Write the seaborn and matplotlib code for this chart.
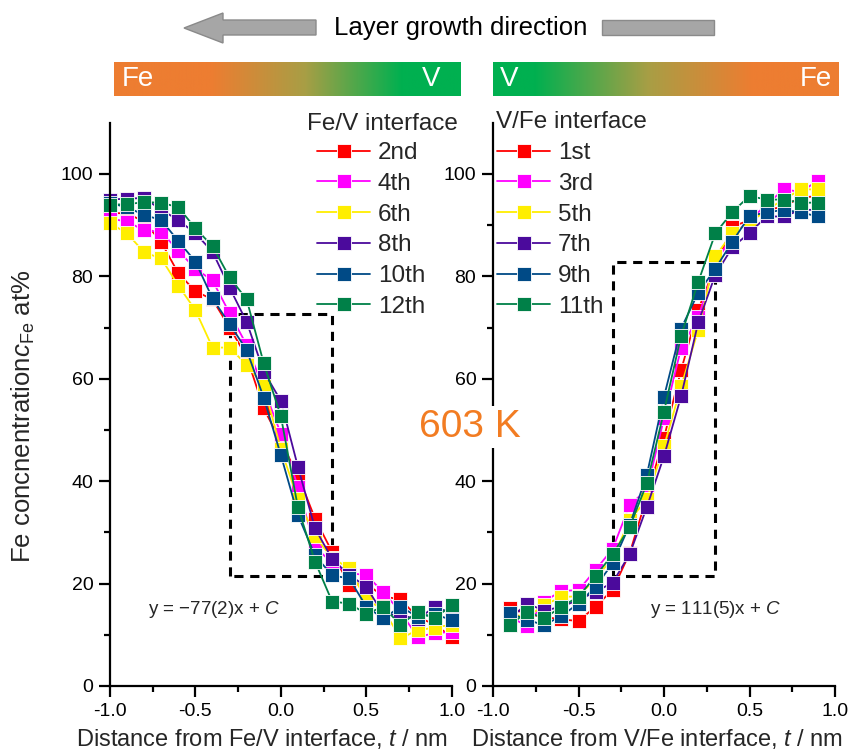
import numpy as np
import pandas as pd
import matplotlib
matplotlib.use("Agg")
import matplotlib.pyplot as plt
import seaborn as sns
from matplotlib.patches import Polygon, Rectangle
from matplotlib.colors import to_rgb

# ---------------- data ----------------
t_left = [-1.0, -0.9, -0.8, -0.7, -0.6, -0.5, -0.4, -0.3, -0.2, -0.1, 0.0,
          0.1, 0.2, 0.3, 0.4, 0.5, 0.6, 0.7, 0.8, 0.9, 1.0]
fe_v_2nd = [92.4, 92.3, 90.7, 86.7, 80.6, 77.1, 75.5, 70.0, 64.3, 54.2, 47.7,
            41.2, 32.7, 26.2, 19.7, 20.0, 17.5, 16.9, 13.5, 12.0, 9.6]
fe_v_4th = [91.3, 90.7, 89.0, 88.7, 85.0, 81.5, 79.2, 72.8, 66.6, 58.0, 49.3,
            38.9, 27.2, 24.0, 22.0, 21.7, 18.3, 14.5, 9.6, 10.3, 10.6]
fe_v_6th = [90.4, 88.4, 84.7, 83.5, 78.2, 73.4, 66.1, 66.1, 62.7, 58.6, 46.3,
            36.5, 29.2, 25.0, 23.0, 16.8, 15.0, 9.3, 10.9, 11.4, 12.0]
fe_v_8th = [95.0, 95.2, 95.3, 93.0, 91.0, 88.4, 84.8, 77.8, 71.1, 61.4, 55.7,
            42.8, 30.8, 24.8, 21.7, 19.4, 14.0, 13.9, 13.0, 15.5, 14.2]
fe_v_10th = [94.3, 93.5, 92.0, 91.0, 86.9, 82.9, 75.7, 70.7, 65.6, 56.3, 45.1,
             33.4, 25.5, 21.6, 21.0, 15.5, 13.2, 15.5, 13.5, 14.0, 12.9]
fe_v_12th = [94.0, 94.1, 94.5, 94.4, 93.5, 89.4, 85.9, 79.8, 75.5, 63.0, 52.7,
             34.9, 24.3, 16.5, 16.1, 14.1, 15.5, 11.9, 14.5, 13.2, 15.8]
left_labels = ["2nd", "4th", "6th", "8th", "10th", "12th"]

t_right = [-0.9, -0.8, -0.7, -0.6, -0.5, -0.4, -0.3, -0.2, -0.1, 0.0,
           0.1, 0.2, 0.3, 0.4, 0.5, 0.6, 0.7, 0.8, 0.9]
v_fe_1st = [15.3, 14.0, 13.5, 13.0, 12.7, 15.5, 18.8, 26.0, 37.0, 48.5,
            61.7, 73.5, 82.0, 89.7, 91.0, 93.0, 93.6, 95.5, 95.6]
v_fe_3rd = [13.5, 11.7, 16.5, 18.6, 18.7, 22.7, 26.8, 35.4, 38.3, 52.3,
            66.0, 72.0, 82.5, 88.0, 91.0, 94.0, 97.0, 96.5, 98.7]
v_fe_5th = [14.0, 13.5, 15.8, 17.4, 17.5, 21.0, 25.0, 32.4, 36.5, 46.8,
            58.5, 69.5, 83.9, 88.5, 90.4, 93.0, 95.0, 97.0, 97.0]
v_fe_7th = [13.2, 16.1, 14.7, 15.5, 16.8, 18.4, 20.2, 25.8, 35.0, 44.9,
            56.6, 71.0, 80.3, 85.7, 88.5, 91.7, 91.7, 93.0, 93.0]
v_fe_9th = [14.2, 12.9, 11.9, 13.7, 16.1, 19.4, 24.0, 31.5, 41.3, 56.5,
            69.8, 76.8, 81.5, 86.8, 91.8, 92.5, 93.0, 92.5, 91.7]
v_fe_11th = [11.9, 14.5, 13.2, 15.5, 17.4, 21.5, 25.7, 31.1, 39.6, 53.6,
             68.4, 78.9, 88.4, 92.6, 95.7, 95.0, 95.0, 94.4, 94.4]
right_labels = ["1st", "3rd", "5th", "7th", "9th", "11th"]

series_colors = ["#FF0000", "#FF00FF", "#FFEE00", "#4B0A9C", "#004A86", "#008048"]

# dashed guide boxes (t range, c range) and fits
box_left = [-0.3, 0.3, 21.5, 72.6]
box_right = [-0.3, 0.3, 21.5, 82.9]
fit_left = r"y = $-$77(2)x + $C$"
fit_right = r"y = 111(5)x + $C$"

# ---------------- style ----------------
sns.set_theme(style="ticks")
plt.rcParams["font.family"] = ["Liberation Sans", "DejaVu Sans"]
plt.rcParams["mathtext.fontset"] = "custom"
plt.rcParams["mathtext.rm"] = "Liberation Sans"
plt.rcParams["mathtext.it"] = "Liberation Sans:italic"
plt.rcParams["mathtext.bf"] = "Liberation Sans:bold"
plt.rcParams["axes.unicode_minus"] = False

W, H = 855, 754
fig = plt.figure(figsize=(W / 100, H / 100), dpi=100)
fig.patch.set_facecolor("white")


def fx(px):
    return px / W


def fy(py):
    return 1 - py / H


y0_px, ytop = 686, 110
ppu = 5.12
ax_h = ytop * ppu / H
ax1 = fig.add_axes([fx(110), fy(y0_px), 341.7 / W, ax_h])
ax2 = fig.add_axes([fx(493), fy(y0_px), 342 / W, ax_h])


def draw_panel(ax, t, series, labels, xlabel, box, fit, fit_pos, leg_anchor,
               title, title_pos):
    frames = []
    for lab, vals in zip(labels, series):
        frames.append(pd.DataFrame({"t": t, "c": vals, "layer": lab}))
    df = pd.concat(frames, ignore_index=True)
    sns.lineplot(data=df, x="t", y="c", hue="layer", hue_order=labels,
                 palette=series_colors, marker="s", markersize=10.3,
                 markeredgecolor="white", markeredgewidth=0.6, linewidth=1.3,
                 estimator=None, sort=False, legend=False, ax=ax, clip_on=False)
    ax.set_xlim(-1.0, 1.0)
    ax.set_ylim(0, ytop)
    ax.set_xticks([-1.0, -0.5, 0.0, 0.5, 1.0])
    ax.set_xticklabels(["-1.0", "-0.5", "0.0", "0.5", "1.0"])
    ax.set_xticks([-0.75, -0.25, 0.25, 0.75], minor=True)
    ax.set_yticks([0, 20, 40, 60, 80, 100])
    ax.set_yticks([10, 30, 50, 70, 90], minor=True)
    ax.tick_params(axis="both", which="major", labelsize=14, length=8, width=1.6,
                   direction="out", color="black", labelcolor="black", pad=4)
    ax.tick_params(axis="both", which="minor", length=4.5, width=1.6,
                   direction="out", color="black")
    for s in ["top", "right"]:
        ax.spines[s].set_visible(False)
    for s in ["left", "bottom"]:
        ax.spines[s].set_linewidth(1.6)
        ax.spines[s].set_color("black")
    ax.set_facecolor("none")
    ax.set_xlabel(xlabel, fontsize=17, labelpad=3)
    ax.set_ylabel("")
    # dashed box
    x0, x1, yb, yt = box
    ax.plot([x0, x0, x1, x1, x0], [yb, yt, yt, yb, yb], ls=(0, (3, 2.2)),
            color="black", lw=2.2, zorder=1)
    ax.text(fit_pos[0], fit_pos[1], fit, transform=ax.transAxes, fontsize=13.5,
            ha="left", va="center")
    handles = ax.get_lines()[:len(labels)]
    leg = ax.legend(handles=handles, labels=labels, loc="upper left",
                    bbox_to_anchor=leg_anchor, bbox_transform=fig.transFigure,
                    frameon=False, fontsize=17.5, handlelength=2.2,
                    handletextpad=0.3, labelspacing=0.36, borderpad=0,
                    borderaxespad=0)
    leg.set_zorder(10)
    fig.text(fx(title_pos[0]), fy(title_pos[1]), title, fontsize=17.5,
             ha="left", va="center")


draw_panel(ax1, t_left, [fe_v_2nd, fe_v_4th, fe_v_6th, fe_v_8th, fe_v_10th, fe_v_12th],
           left_labels, r"Distance from Fe/V interface, $t$ / nm", box_left,
           fit_left, (0.11, 0.135), (fx(317), fy(142)), "Fe/V interface", (307, 124))
draw_panel(ax2, t_right, [v_fe_1st, v_fe_3rd, v_fe_5th, v_fe_7th, v_fe_9th, v_fe_11th],
           right_labels, r"Distance from V/Fe interface, $t$ / nm", box_right,
           fit_right, (0.46, 0.135), (fx(497), fy(142)), "V/Fe interface", (496, 122))

ax1.xaxis.set_label_coords(0.445, -0.072)
ax2.xaxis.set_label_coords(0.48, -0.072)
ax1.set_ylabel(r"Fe concnentration$\mathit{c}_{\mathrm{Fe}}$ at%", fontsize=18.5)
ax1.yaxis.set_label_coords(-0.215, 0.478)

# temperature label
fig.text(fx(470), fy(427), "603 K", fontsize=28, color="#F27C22", ha="center",
         va="center", bbox=dict(facecolor="white", edgecolor="none", pad=2),
         zorder=20)

# ---------------- top decoration ----------------
ov = fig.add_axes([0, 0, 1, 1], zorder=5)
ov.set_xlim(0, W)
ov.set_ylim(H, 0)
ov.axis("off")
ov.patch.set_alpha(0)

orange = np.array(to_rgb("#ED7D31"))
green = np.array(to_rgb("#00B050"))
olive = np.array([0.66, 0.62, 0.27])


def gradient(stops, n=400):
    pos = np.array([s[0] for s in stops])
    cols = np.array([s[1] for s in stops])
    xs = np.linspace(0, 1, n)
    rgb = np.stack([np.interp(xs, pos, cols[:, k]) for k in range(3)], axis=-1)
    return rgb[np.newaxis, :, :]


g_left = gradient([(0, orange), (0.28, orange), (0.55, olive), (0.83, green), (1, green)])
g_right = gradient([(0, green), (0.12, green), (0.45, olive), (0.75, orange), (1, orange)])
ov.imshow(g_left, extent=[114, 460, 96, 62], aspect="auto", zorder=1)
ov.imshow(g_right, extent=[493, 838, 96, 62], aspect="auto", zorder=1)
ov.text(122, 79, "Fe", color="white", fontsize=20, ha="left", va="center", zorder=2)
ov.text(440, 79, "V", color="white", fontsize=20, ha="right", va="center", zorder=2)
ov.text(500, 79, "V", color="white", fontsize=20, ha="left", va="center", zorder=2)
ov.text(832, 79, "Fe", color="white", fontsize=20, ha="right", va="center", zorder=2)

arrow = Polygon([(184, 28), (223, 13), (223, 20), (316, 20), (316, 35),
                 (223, 35), (223, 43)], closed=True, facecolor="#A6A6A6",
                edgecolor="#8A8A8A", lw=1, zorder=2)
ov.add_patch(arrow)
ov.add_patch(Rectangle((602, 20), 112, 15, facecolor="#A6A6A6",
                       edgecolor="#8A8A8A", lw=1, zorder=2))
ov.text(461, 28, "Layer growth direction", fontsize=18.5, ha="center",
        va="center", color="black", zorder=2)

fig.savefig("out.png", dpi=100, facecolor="white")
